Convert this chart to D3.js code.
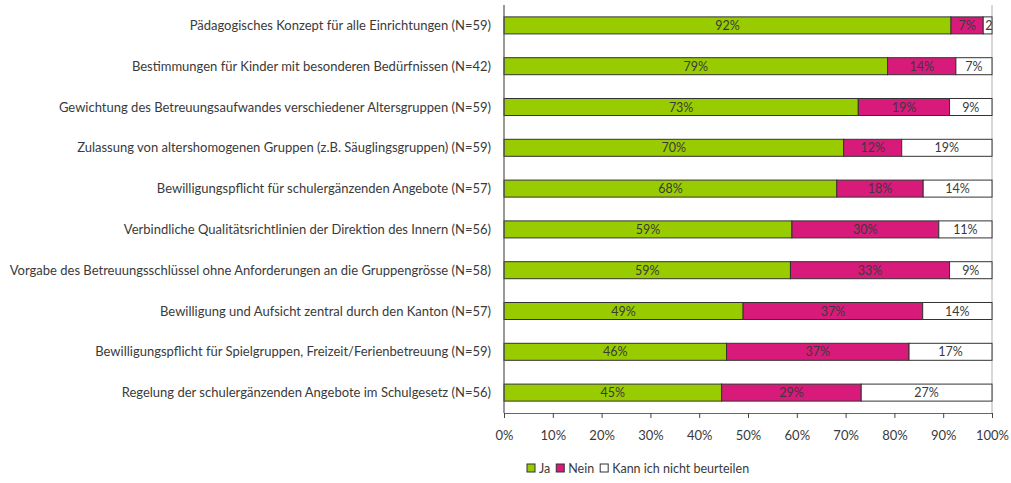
<!DOCTYPE html>
<html>
<head>
<meta charset="utf-8">
<script src="https://cdn.jsdelivr.net/npm/d3@7"></script>
<style>
body { margin: 0; background: #fff; }
text { font-family: Lato, "Open Sans", sans-serif; fill: #3a3a3a; }
</style>
</head>
<body>
<div class="chart"></div>
<script>

// Daten
const categories = [
    "Pädagogisches Konzept für alle Einrichtungen (N=59)",
    "Bestimmungen für Kinder mit besonderen Bedürfnissen (N=42)",
    "Gewichtung des Betreuungsaufwandes verschiedener Altersgruppen (N=59)",
    "Zulassung von altershomogenen Gruppen (z.B. Säuglingsgruppen) (N=59)",
    "Bewilligungspflicht für schulergänzenden Angebote  (N=57)",
    "Verbindliche Qualitätsrichtlinien der Direktion des Innern (N=56)",
    "Vorgabe des Betreuungsschlüssel ohne Anforderungen an die Gruppengrösse (N=58)",
    "Bewilligung und Aufsicht zentral durch den Kanton (N=57)",
    "Bewilligungspflicht für Spielgruppen, Freizeit/Ferienbetreuung (N=59)",
    "Regelung der schulergänzenden Angebote im Schulgesetz (N=56)"
];

const ja    = [91.6, 78.6, 72.6, 69.6, 68.2, 59.0, 58.7, 49.0, 45.6, 44.6];
const nein  = [6.6, 14.0, 18.7, 11.9, 17.7, 30.1, 32.6, 36.8, 37.4, 28.6];
const kann  = [1.8, 7.4, 8.7, 18.5, 14.1, 10.9, 8.7, 14.2, 17.0, 26.8];

const seriesNames = ["Ja", "Nein", "Kann ich nicht beurteilen"];
const seriesColors = ["#99cc00", "#d81b7b", "#ffffff"];

const tickValues = [0, 10, 20, 30, 40, 50, 60, 70, 80, 90, 100];

const rows = categories.map((c, i) => ({ cat: c, Ja: ja[i], Nein: nein[i], Kann: kann[i] }));

const width = 1011;
const height = 483;

const margin = { top: 5, left: 504, right: 19, bottom: 70 };

const svg = d3.select(".chart")
    .append("svg")
    .attr("width", width)
    .attr("height", height);

const x = d3.scaleLinear()
    .domain([0, 100])
    .range([margin.left, width - margin.right]);

const y = d3.scaleBand()
    .domain(categories)
    .range([margin.top, height - margin.bottom])
    .paddingInner(0.583)
    .paddingOuter(0.2915);

const stack = d3.stack().keys(["Ja", "Nein", "Kann"]);
const stacked = stack(rows);

// rechter Rahmen
svg.append("line")
    .attr("x1", x(100)).attr("x2", x(100))
    .attr("y1", margin.top).attr("y2", height - margin.bottom)
    .attr("stroke", "#b0b0b0")
    .attr("stroke-width", 1);

// Balken
const defs = svg.append("defs");

stacked.forEach((s, si) => {

    const g = svg.append("g");

    s.forEach((d, i) => {

        const x0 = x(d[0]);
        const x1 = x(d[1]);
        const yy = y(categories[i]);
        const id = `clip-${si}-${i}`;

        defs.append("clipPath")
            .attr("id", id)
            .append("rect")
            .attr("x", x0)
            .attr("y", yy)
            .attr("width", x1 - x0)
            .attr("height", y.bandwidth());

        g.append("rect")
            .attr("x", x0)
            .attr("y", yy)
            .attr("width", x1 - x0)
            .attr("height", y.bandwidth())
            .attr("fill", seriesColors[si])
            .attr("stroke", "#333")
            .attr("stroke-width", 1);

        const t = g.append("text")
            .attr("clip-path", `url(#${id})`)
            .attr("x", (x0 + x1) / 2)
            .attr("y", yy + y.bandwidth() / 2)
            .attr("dy", "0.36em")
            .attr("text-anchor", "middle")
            .style("font-size", "12.5px")
            .text(Math.round(d[1] - d[0]) + "%");

        // zu schmal: linksbündig, wird abgeschnitten
        if (t.node().getComputedTextLength() > x1 - x0) {
            t.attr("x", x0 + 2).attr("text-anchor", "start");
        }
    });
});

// Achsen
const xAxis = svg.append("g")
    .attr("transform", `translate(0,${height - margin.bottom})`)
    .call(
        d3.axisBottom(x)
            .tickValues(tickValues)
            .tickFormat(d => d + "%")
            .tickSizeInner(5)
            .tickSizeOuter(0)
            .tickPadding(13)
    );

xAxis.select(".domain").attr("stroke", "#666");
xAxis.selectAll(".tick line").attr("stroke", "#444");
xAxis.selectAll("text")
    .style("font-size", "13px")
    .style("font-family", "Lato, sans-serif")
    .attr("fill", "#3a3a3a");

svg.append("line")
    .attr("x1", x(0)).attr("x2", x(0))
    .attr("y1", margin.top).attr("y2", height - margin.bottom)
    .attr("stroke", "#555")
    .attr("stroke-width", 1.2);

// Kategorien
svg.append("g")
    .selectAll("text")
    .data(categories)
    .enter()
    .append("text")
    .attr("x", x(0) - 13)
    .attr("y", d => y(d) + y.bandwidth() / 2)
    .attr("dy", "0.36em")
    .attr("text-anchor", "end")
    .style("font-size", "13px")
    .text(d => d);

// Legende
const legend = svg.append("g")
    .attr("transform", "translate(527,468)");

let lx = 0;
seriesNames.forEach((n, i) => {

    legend.append("rect")
        .attr("x", lx)
        .attr("y", -4)
        .attr("width", 8)
        .attr("height", 8)
        .attr("fill", seriesColors[i])
        .attr("stroke", "#333")
        .attr("stroke-width", 1);

    const t = legend.append("text")
        .attr("x", lx + 12)
        .attr("y", 0)
        .attr("dy", "0.36em")
        .style("font-size", "12.5px")
        .text(n);

    lx += 12 + t.node().getComputedTextLength() + 6;
});

</script>
</body>
</html>
